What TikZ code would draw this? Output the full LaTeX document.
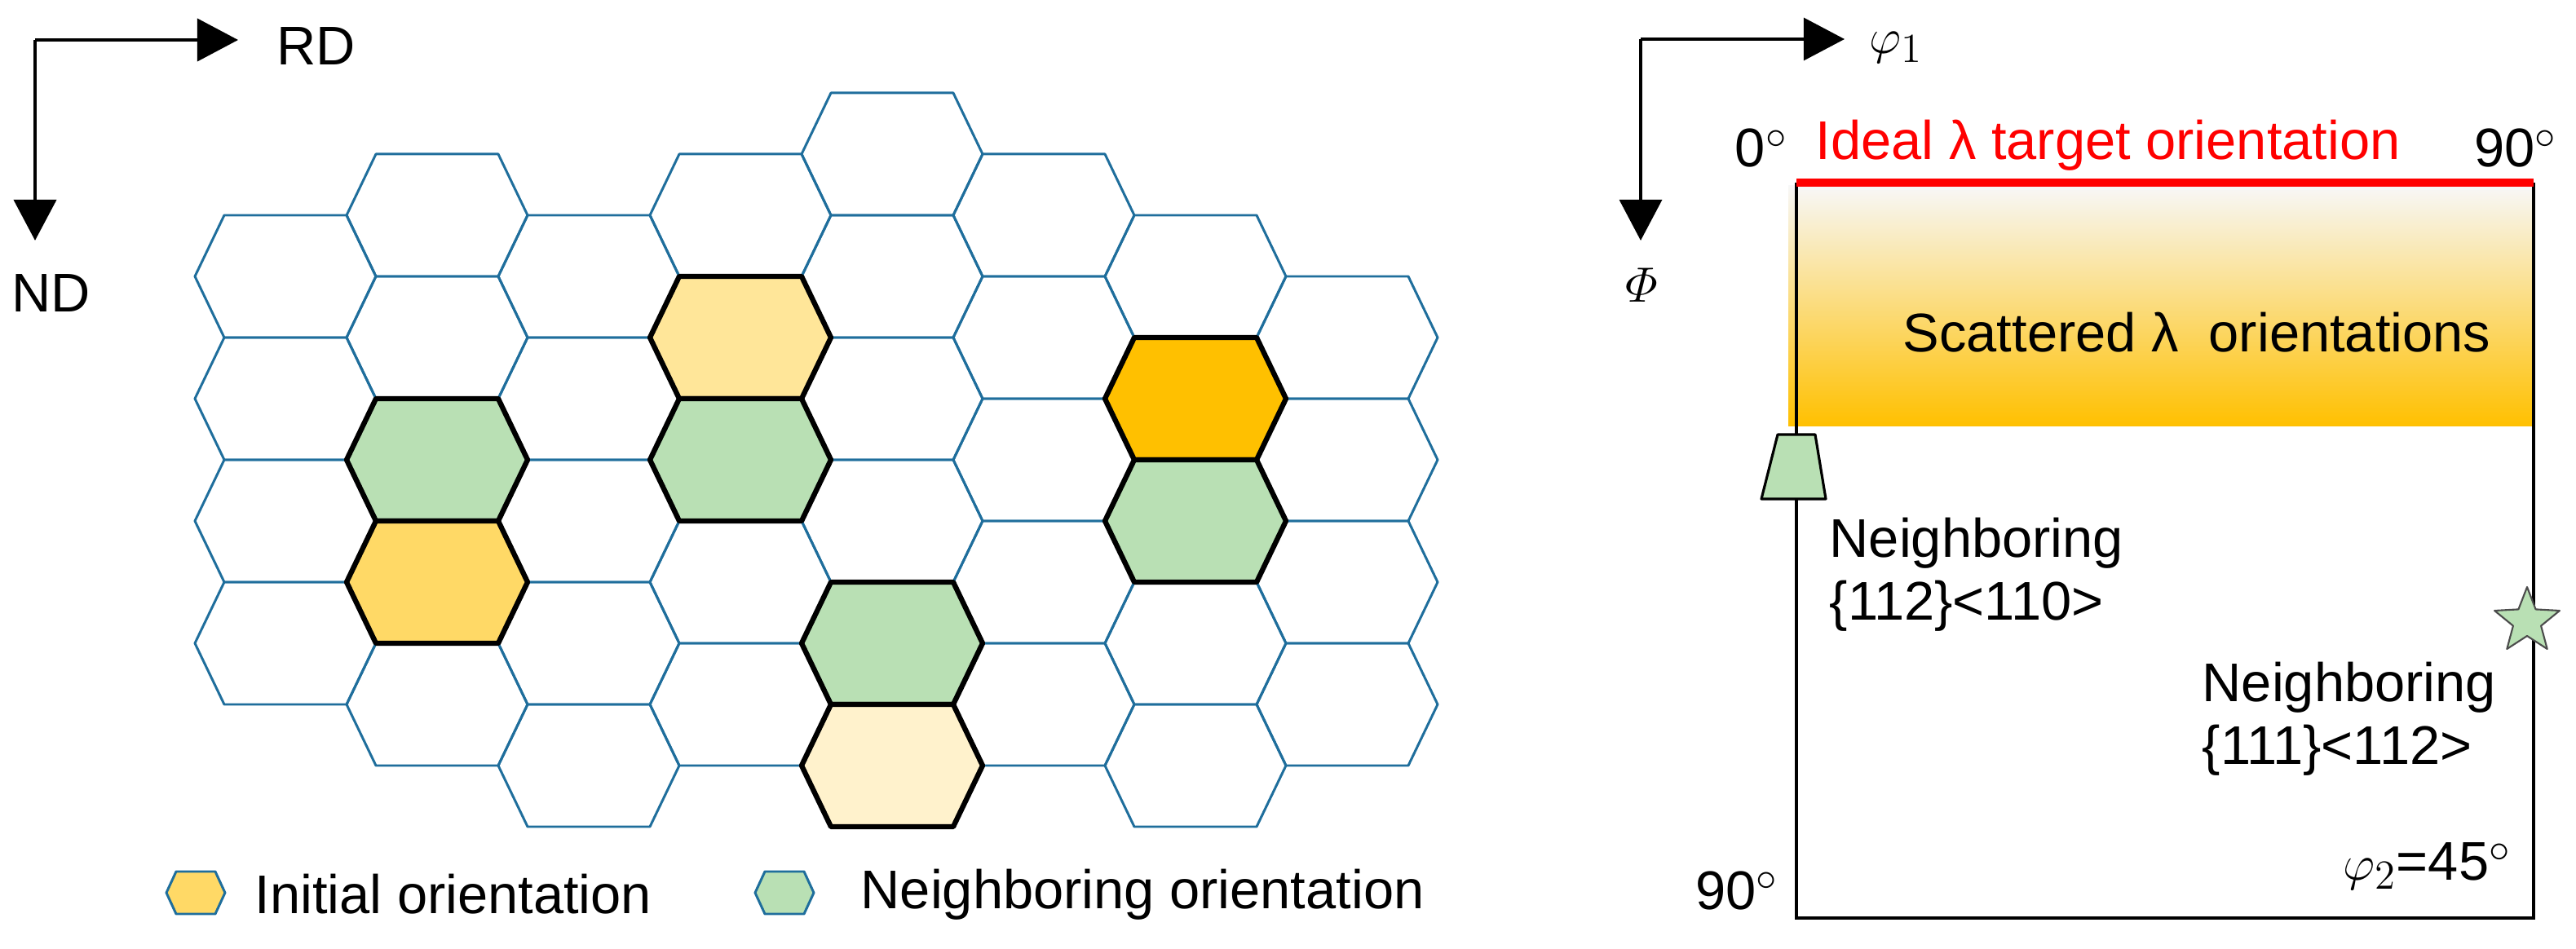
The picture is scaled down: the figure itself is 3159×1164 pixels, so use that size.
\documentclass[tikz,border=0pt]{standalone}
\usepackage{fontspec}
\usepackage{amsmath}
\setmainfont{Liberation Sans}
\usetikzlibrary{arrows.meta}
\definecolor{gridblue}{HTML}{1F6E9C}
\definecolor{ngreen}{HTML}{B9E0B4}
\definecolor{inityel}{HTML}{FFD966}
\definecolor{lightyel}{HTML}{FFE699}
\definecolor{paleyel}{HTML}{FFF2CC}
\definecolor{orangeY}{HTML}{FFC000}
\newcommand\hexagonpath[2]{(#1-111,#2) -- (#1-75,#2-75) -- (#1+75,#2-75) -- (#1+111,#2) -- (#1+75,#2+75) -- (#1-75,#2+75) -- cycle}
\begin{document}
\begin{tikzpicture}[x=0.01cm,y=-0.01cm,
  lab/.style={font=\fontsize{19}{22}\selectfont,inner sep=0pt},
  grid/.style={draw=gridblue,line width=0.85pt,line join=round},
  grain/.style={draw=black,line width=1.8pt,line join=round},
  axis/.style={line width=1.1pt,-{Triangle[length=0.5cm,width=0.52cm]}}]
\useasboundingbox (0,0) rectangle (3159,1164);
% axes left
\coordinate (o1) at (43,49);
\coordinate (rd) at (292,49);
\coordinate (nd) at (43,295);
\draw[axis] (o1) -- (rd);
\draw[axis] (o1) -- (nd);
\node[lab] (rdl) at (388,57) {RD};
\node[lab] (ndl) at (63,360) {ND};
% hex grid
\foreach \cx/\top/\n in {350/264/4,536/189/5,722/264/5,908/189/5,1094/114/6,1280/189/5,1466/264/5,1652/339/4}{
  \foreach \k in {1,...,\n}{
    \pgfmathsetmacro\cy{\top+75+150*(\k-1)}
    \draw[grid] \hexagonpath{\cx}{\cy};
  }
}
% coloured grains
\draw[grain,fill=ngreen] \hexagonpath{536}{564};
\draw[grain,fill=inityel] \hexagonpath{536}{714};
\draw[grain,fill=lightyel] \hexagonpath{908}{414};
\draw[grain,fill=ngreen] \hexagonpath{908}{564};
\draw[grain,fill=ngreen] \hexagonpath{1094}{789};
\draw[grain,fill=paleyel] \hexagonpath{1094}{939};
\draw[grain,fill=orangeY] \hexagonpath{1466}{489};
\draw[grain,fill=ngreen] \hexagonpath{1466}{639};
% legend
\draw[grid,fill=inityel] (204,1095) -- (216,1069) -- (264,1069) -- (276,1095) -- (264,1121) -- (216,1121) -- cycle;
\node[lab,anchor=west] (leg1) at (312,1097) {Initial orientation};
\draw[grid,fill=ngreen] (926,1095) -- (938,1069) -- (986,1069) -- (998,1095) -- (986,1121) -- (938,1121) -- cycle;
\node[lab,anchor=west] (leg2) at (1055,1097) {Neighboring orientation};
% right panel
\coordinate (o2) at (2012,48);
\coordinate (p1) at (2262,48);
\coordinate (ph) at (2012,295);
\draw[axis,line width=0.9pt] (o2) -- (p1);
\draw[axis,line width=0.9pt] (o2) -- (ph);
\node[lab] (p1l) at (2325,58) {$\varphi_1$};
\node[lab] (phl) at (2013,350) {$\varPhi$};
\shade[top color=black!3, middle color=orangeY!35, bottom color=orangeY] (2193,228) rectangle (3107,523);
\coordinate (tl) at (2203,224);
\coordinate (tr) at (3107,224);
\coordinate (bl) at (2203,1126);
\coordinate (br) at (3107,1126);
\draw[line width=0.9pt] (tl) -- (bl) -- (br) -- (tr);
\draw[red,line width=2.6pt] (tl) -- (tr);
\node[lab,red,anchor=west] (ideal) at (2226,178) {Ideal λ target orientation};
\node[lab] (z0) at (2160,182) {0$^{\circ}$};
\node[lab] (n90) at (3085,182) {90$^{\circ}$};
\node[lab] (scat) at (2694,408) {Scattered λ\ \ orientations};
\draw[line width=0.9pt,fill=ngreen,line join=round] (2180,533) -- (2226,533) -- (2239,612) -- (2160,612) -- cycle;
\node[lab,anchor=west,align=left] (nb1) at (2243,705) {Neighboring\\\{112\}<110>};
\begin{scope}[shift={(3099,762)},y=0.01cm]
\draw[draw=black!70,fill=ngreen,line width=0.6pt,line join=round] (0,42) -- (-10.6,14.6) -- (-39.9,13.0) -- (-17.1,-5.6) -- (-24.7,-34.0) -- (0,-18) -- (24.7,-34.0) -- (17.1,-5.6) -- (39.9,13.0) -- (10.6,14.6) -- cycle;
\end{scope}
\node[lab,anchor=west,align=left] (nb2) at (2700,882) {Neighboring\\\{111\}<112>};
\node[lab,anchor=east] (p2) at (3080,1062) {$\varphi_2$=45$^{\circ}$};
\node[lab] (b90) at (2130,1092) {90$^{\circ}$};
\end{tikzpicture}
\end{document}
